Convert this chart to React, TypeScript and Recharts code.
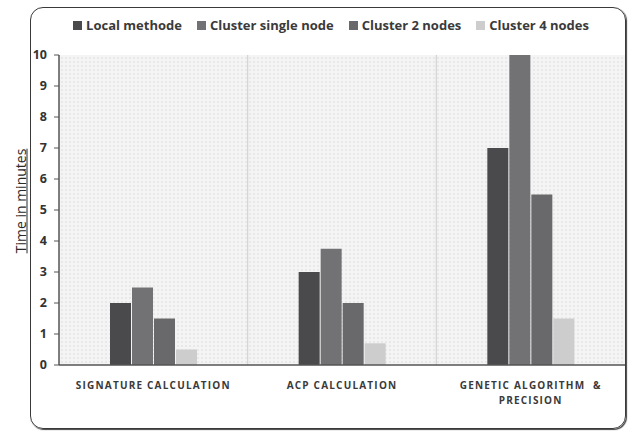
import { Bar, BarChart, CartesianGrid, XAxis, YAxis } from "recharts";

const categories = ["SIGNATURE CALCULATION", "ACP CALCULATION", "GENETIC ALGORITHM  &\nPRECISION"];
const seriesNames = ["Local methode", "Cluster single node", "Cluster 2 nodes", "Cluster 4 nodes"];
const localMethode = [2, 3, 7];
const clusterSingle = [2.5, 3.75, 10];
const cluster2 = [1.5, 2, 5.5];
const cluster4 = [0.5, 0.7, 1.5];
const yTicks = [0, 1, 2, 3, 4, 5, 6, 7, 8, 9, 10];

const barColors = ["#4a494b", "#727275", "#69696b", "#cdcdcd"];
const keys = ["s0", "s1", "s2", "s3"];

const data = categories.map((name, i) => ({
  name,
  s0: localMethode[i],
  s1: clusterSingle[i],
  s2: cluster2[i],
  s3: cluster4[i],
}));

const font = "'Open Sans', 'Noto Sans', sans-serif";

function CategoryTick({ x, y, payload }: any) {
  const lines = String(payload.value).split("\n");
  return (
    <text
      x={x}
      y={y + 16}
      textAnchor="middle"
      fill="#3a3a3a"
      fontSize={10}
      fontWeight={700}
      fontFamily={font}
      letterSpacing={1.2}
      style={{ whiteSpace: "pre" }}
    >
      {lines.map((l, i) => (
        <tspan key={i} x={x} dy={i === 0 ? 0 : 15}>
          {l}
        </tspan>
      ))}
    </text>
  );
}

export default function App() {
  return (
    <div style={{ position: "absolute", left: 0, top: 0, width: 632, height: 432, background: "#fff" }}>
      <div
        style={{
          position: "absolute",
          left: 30,
          top: 7,
          width: 594,
          height: 420,
          border: "1.5px solid #3a3a3a",
          borderRadius: 13,
          boxShadow: "1px 1px 1px #444",
        }}
      />
      <div
        style={{
          position: "absolute",
          left: 0,
          top: 16,
          width: 632,
          display: "flex",
          justifyContent: "center",
          paddingLeft: 30,
          boxSizing: "border-box",
          fontFamily: font,
          fontWeight: 700,
          fontSize: 13,
          color: "#3a3a3a",
          gap: 15,
        }}
      >
        {seriesNames.map((n, i) => (
          <div key={n} style={{ display: "flex", alignItems: "center" }}>
            <span style={{ width: 9, height: 9, background: barColors[i], marginRight: 4, display: "inline-block" }} />
            {n}
          </div>
        ))}
      </div>
      <div
        style={{
          position: "absolute",
          left: 20,
          top: 201,
          transform: "translate(-50%, -50%) rotate(-90deg)",
          fontFamily: font,
          fontSize: 14,
          fontWeight: 500,
          color: "#2a2a2a",
          textDecoration: "underline",
          whiteSpace: "nowrap",
        }}
      >
        Time in minutes
      </div>
      <div style={{ position: "absolute", left: 0, top: 0 }}>
        <BarChart
          width={632}
          height={432}
          data={data}
          margin={{ top: 55, right: 7, left: 24, bottom: 0 }}
          barCategoryGap={51}
          barGap={1}
        >
          <defs>
            <pattern id="dots" width="4" height="4" patternUnits="userSpaceOnUse">
              <rect width="4" height="4" fill="#f4f4f4" />
              <circle cx="2" cy="2" r="0.7" fill="#d4d4d4" />
            </pattern>
          </defs>
          <CartesianGrid
            horizontal={false}
            fill="url(#dots)"
            stroke="#d2d2d2"
            strokeWidth={1.2}
            verticalCoordinatesGenerator={({ offset }: any) => [
              offset.left + offset.width / 3,
              offset.left + (2 * offset.width) / 3,
            ]}
          />
          <XAxis
            dataKey="name"
            height={67}
            interval={0}
            tickLine={false}
            axisLine={{ stroke: "#555", strokeWidth: 1.5 }}
            tick={<CategoryTick />}
          />
          <YAxis
            width={35}
            domain={[0, 10]}
            ticks={yTicks}
            interval={0}
            tickSize={5}
            tickMargin={7}
            axisLine={{ stroke: "#555", strokeWidth: 1.5 }}
            tickLine={{ stroke: "#555" }}
            tick={{ fill: "#333", fontSize: 12.5, fontWeight: 700, fontFamily: font }}
          />
          {keys.map((k, i) => (
            <Bar key={k} dataKey={k} name={seriesNames[i]} fill={barColors[i]} isAnimationActive={false} />
          ))}
        </BarChart>
      </div>
    </div>
  );
}
